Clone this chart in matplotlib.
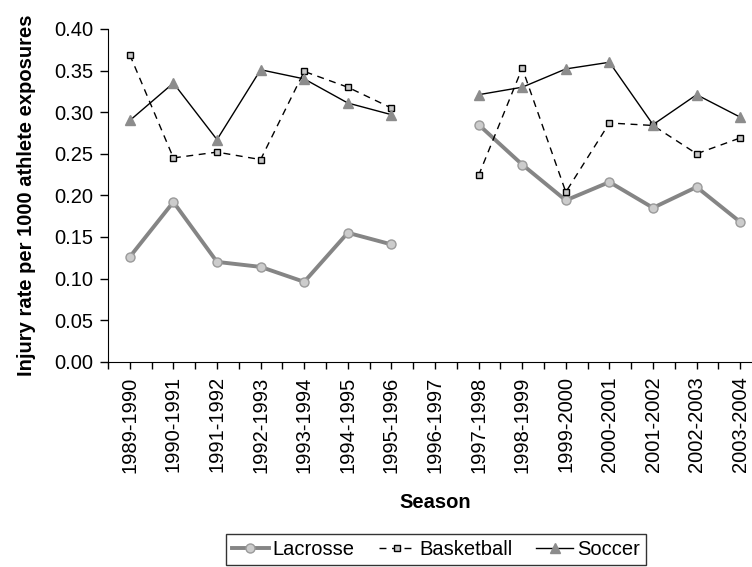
import numpy as np
import matplotlib
matplotlib.use('Agg')
import matplotlib.pyplot as plt

plt.rcParams['font.family'] = ['Liberation Sans', 'DejaVu Sans']

seasons = ['1989-1990', '1990-1991', '1991-1992', '1992-1993', '1993-1994',
           '1994-1995', '1995-1996', '1996-1997', '1997-1998', '1998-1999',
           '1999-2000', '2000-2001', '2001-2002', '2002-2003', '2003-2004']
lacrosse = [0.126, 0.192, 0.120, 0.114, 0.096, 0.155, 0.141, np.nan,
            0.285, 0.237, 0.194, 0.216, 0.185, 0.210, 0.168]
basketball = [0.369, 0.245, 0.252, 0.243, 0.349, 0.330, 0.305, np.nan,
              0.224, 0.353, 0.204, 0.287, 0.284, 0.250, 0.269]
soccer = [0.290, 0.335, 0.267, 0.351, 0.340, 0.311, 0.297, np.nan,
          0.321, 0.330, 0.352, 0.360, 0.285, 0.321, 0.294]

FS = 14.5

fig = plt.figure(figsize=(7.52, 5.67), dpi=100)
ax = fig.add_axes([108/752, 1 - 361.7/567, 1 - 108/752, (361.7 - 29)/567])
x = np.arange(len(seasons))

ax.plot(x, lacrosse, color='#858585', lw=2.8, marker='o', ms=6.5,
        mfc='#cccccc', mec='#9a9a9a', mew=1.0, label='Lacrosse', zorder=2)
ax.plot(x, basketball, color='black', lw=1.0, ls=(0, (5, 4)), marker='s', ms=5,
        mfc='#c8c8c8', mec='black', mew=1.0, label='Basketball', zorder=3)
ax.plot(x, soccer, color='black', lw=1.0, marker='^', ms=7,
        mfc='#8c8c8c', mec='#8c8c8c', label='Soccer', zorder=3)

ax.set_xlim(-0.5, 14.27)
ax.set_ylim(0, 0.40)
yt = np.arange(0, 0.401, 0.05)
ax.set_yticks(yt)
ax.set_yticklabels([f'{v:.2f}' for v in yt], fontsize=FS)
ax.set_xticks(x)
ax.set_xticklabels(seasons, rotation=90, fontsize=FS)
ax.set_xticks(np.arange(-0.5, 14.5, 1.0), minor=True)
ax.tick_params(axis='x', which='both', length=5, width=1, direction='out')
ax.tick_params(axis='x', which='major', pad=5.5)
ax.tick_params(axis='y', length=6, width=1, direction='out', pad=4.5)

for s in ['top', 'right']:
    ax.spines[s].set_visible(False)

ax.set_ylabel('Injury rate per 1000 athlete exposures', fontsize=FS, fontweight='bold')
ax.yaxis.set_label_coords(-0.112, 0.5)
fig.text(435/752, 1 - 503/567, 'Season', ha='center', va='center',
         fontsize=FS, fontweight='bold')

leg = fig.legend(loc='lower center', bbox_to_anchor=(436/752, 0.0), ncol=3,
                 frameon=True, fancybox=False, edgecolor='black', fontsize=FS,
                 handlelength=1.8, columnspacing=1.2, handletextpad=0.2,
                 borderpad=0.3, borderaxespad=0.1)
leg.get_frame().set_linewidth(1.0)

fig.savefig('out.png', dpi=100)
